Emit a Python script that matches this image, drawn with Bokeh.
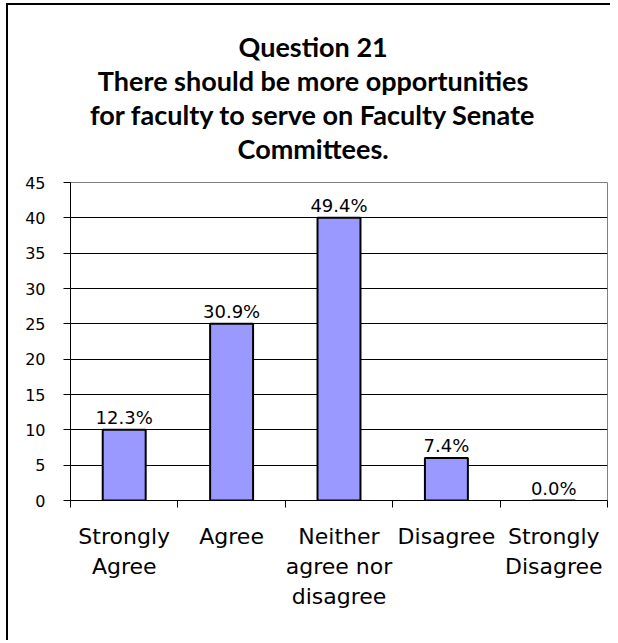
from bokeh.plotting import figure
from bokeh.layouts import column
from bokeh.models import Range1d, FixedTicker, ColumnDataSource, LabelSet
from bokeh.core.properties import value
from bokeh.embed import file_html
from bokeh.resources import INLINE

categories = ["Strongly\nAgree", "Agree", "Neither\nagree nor\ndisagree", "Disagree", "Strongly\nDisagree"]
counts = [10, 25, 40, 6, 0]
percent_labels = ["12.3%", "30.9%", "49.4%", "7.4%", "0.0%"]
y_ticks = [0, 5, 10, 15, 20, 25, 30, 35, 40, 45]
title_lines = [
    "Question 21",
    "There should be more opportunities",
    "for faculty to serve on Faculty Senate",
    "Committees.",
]

positions = [i + 0.5 for i in range(len(categories))]
boundaries = [i for i in range(len(categories) + 1)]

W = 602
TH = 165   # title band height
PH = 470   # chart height

# ---- title band (pixel-space figure, y grows downward) ----
tf = figure(
    width=W, height=TH, x_range=Range1d(0, W), y_range=Range1d(TH, 0),
    output_backend="svg", toolbar_location=None, title=None,
    x_axis_location=None, y_axis_location=None,
    min_border=0, min_border_left=0, min_border_right=0, min_border_top=0, min_border_bottom=0,
    background_fill_color="white", border_fill_color="white",
)
tf.grid.visible = False
tf.outline_line_color = None
tf.text(
    x=[272] * len(title_lines), y=[41 + 34 * i for i in range(len(title_lines))],
    text=title_lines, text_align="center", text_baseline="alphabetic",
    text_font=value("Lato"), text_font_size="27px", text_font_style="bold",
    text_color="black",
)

# ---- chart ----
src = ColumnDataSource(dict(x=positions, top=counts, label=percent_labels))

p = figure(
    width=W, height=PH,
    x_range=Range1d(0, len(categories)), y_range=Range1d(0, 45),
    output_backend="svg", toolbar_location=None, title=None,
    min_border_left=62, min_border_right=3, min_border_top=12, min_border_bottom=PH - 12 - 318,
    background_fill_color="white", border_fill_color="white",
)

p.vbar(x="x", top="top", width=0.4, source=src,
       fill_color="#9999FF", line_color="black", line_width=2)

labels = LabelSet(x="x", y="top", text="label", source=src, y_offset=6,
                  text_align="center", text_baseline="alphabetic",
                  text_font=value("DejaVu Sans"), text_font_size=value("18px"),
                  text_color="black")
p.add_layout(labels)

# x axis
p.xaxis.ticker = FixedTicker(ticks=positions, minor_ticks=boundaries)
p.xaxis.major_label_overrides = {pos: cat for pos, cat in zip(positions, categories)}
p.xaxis.major_tick_out = 0
p.xaxis.major_tick_in = 0
p.xaxis.minor_tick_out = 7
p.xaxis.minor_tick_in = 0
p.xaxis.minor_tick_line_color = "black"
p.xaxis.axis_line_color = "black"
p.xaxis.major_label_standoff = 16
p.xaxis.major_label_text_font = "DejaVu Sans"
p.xaxis.major_label_text_font_size = "22px"
p.xaxis.major_label_text_color = "black"

# y axis
p.yaxis.ticker = FixedTicker(ticks=y_ticks, minor_ticks=[])
p.yaxis.major_tick_out = 7
p.yaxis.major_tick_in = 0
p.yaxis.minor_tick_out = 0
p.yaxis.minor_tick_in = 0
p.yaxis.major_tick_line_color = "black"
p.yaxis.axis_line_color = "black"
p.yaxis.major_label_standoff = 18
p.yaxis.major_label_text_font = "DejaVu Sans"
p.yaxis.major_label_text_font_size = "16px"
p.yaxis.major_label_text_color = "black"

p.xgrid.visible = False
p.ygrid.ticker = FixedTicker(ticks=y_ticks[1:-1], minor_ticks=[])
p.ygrid.grid_line_color = "black"
p.ygrid.grid_line_alpha = 1.0
p.ygrid.grid_line_width = 1

p.outline_line_color = "#808080"
p.outline_line_width = 1
p.outline_line_alpha = 1.0

layout = column(tf, p, spacing=0)
layout.styles = {
    "border-left": "2px solid black",
    "border-top": "2px solid black",
    "margin-left": "6px",
    "margin-top": "3px",
}

open("out.html", "w").write(file_html(layout, INLINE))
